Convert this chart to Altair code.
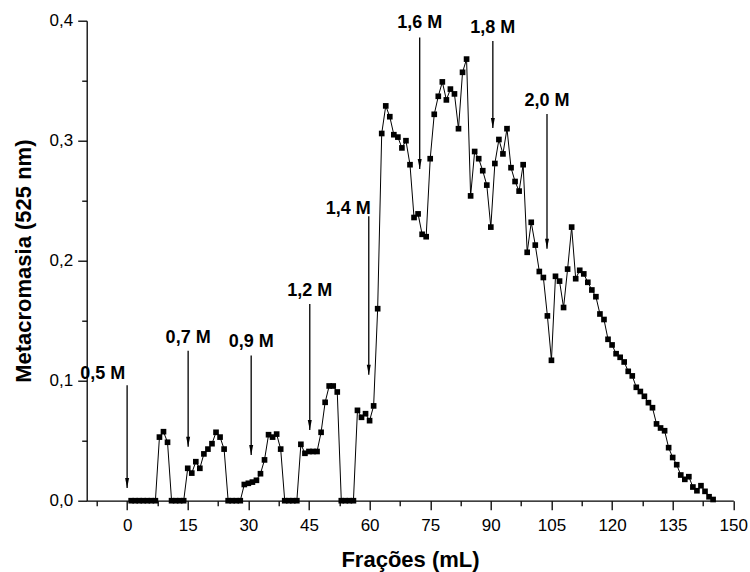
import altair as alt
import pandas as pd

# ---- data ----
frac_ml = list(range(1, 146))
metacromasia = [
    0, 0, 0, 0, 0, 0, 0,                      # 1-7
    0.053, 0.0575, 0.0487,                    # 8-10
    0, 0, 0, 0,                               # 11-14
    0.027, 0.023, 0.0325, 0.027, 0.039, 0.043, 0.0475, 0.057, 0.053, 0.043,  # 15-24
    0, 0, 0, 0,                               # 25-28
    0.0135, 0.0145, 0.0155, 0.017, 0.0225, 0.034, 0.055, 0.053, 0.0555, 0.043,  # 29-38
    0, 0, 0, 0,                               # 39-42
    0.047, 0.0395, 0.041, 0.041, 0.041, 0.057, 0.082, 0.0956, 0.0956, 0.0906,  # 43-52
    0, 0, 0, 0,                               # 53-56
    0.0753, 0.0695, 0.0725, 0.0667, 0.079,    # 57-61
    0.160, 0.306, 0.329, 0.320, 0.305, 0.303, 0.294, 0.300, 0.280,  # 62-70
    0.236, 0.239, 0.222, 0.220, 0.285, 0.322, 0.337, 0.349, 0.334, 0.343,  # 71-80
    0.339, 0.310, 0.357, 0.368, 0.254, 0.291, 0.285, 0.275, 0.263, 0.228,  # 81-90
    0.281, 0.301, 0.289, 0.310, 0.2775, 0.266, 0.258, 0.280, 0.207, 0.232,  # 91-100
    0.213, 0.191, 0.186, 0.154, 0.117, 0.187, 0.183, 0.161, 0.193, 0.228,  # 101-110
    0.185, 0.192, 0.189, 0.182, 0.1756, 0.170, 0.1556, 0.151, 0.1345, 0.1298,  # 111-120
    0.1225, 0.1195, 0.1156, 0.1078, 0.104, 0.0945, 0.091, 0.087, 0.0817, 0.0775,  # 121-130
    0.064, 0.0606, 0.0583, 0.0442, 0.036, 0.030, 0.0214, 0.0178, 0.020, 0.0114,  # 131-140
    0.0083, 0.0125, 0.0078, 0.0033, 0.001,    # 141-145
]

# annotations (NaCl steps)
ann_text = ["0,5 M", "0,7 M", "0,9 M", "1,2 M", "1,4 M", "1,6 M", "1,8 M", "2,0 M"]
ann_arrow_x = [0, 15.1, 30.7, 45.2, 59.8, 72.4, 90.5, 103.9]
ann_arrow_top = [0.0963, 0.125, 0.121, 0.164, 0.237, 0.386, 0.383, 0.3223]
ann_arrow_tip = [0.0106, 0.045, 0.038, 0.059, 0.105, 0.2764, 0.3106, 0.210]
ann_label_x = [-6.0, 15.1, 30.7, 45.2, 54.7, 72.4, 90.5, 103.9]
ann_label_y = [0.1054, 0.136, 0.132, 0.175, 0.2435, 0.398, 0.394, 0.333]

x_ticks = list(range(0, 151, 15))
x_minor = [v + 7.5 for v in range(-15, 150, 15)]
y_ticks = [0.0, 0.1, 0.2, 0.3, 0.4]
y_minor = [0.05, 0.15, 0.25, 0.35]

series = pd.DataFrame({"x": frac_ml, "y": metacromasia})
ann = pd.DataFrame({
    "text": ann_text, "ax": ann_arrow_x, "top": ann_arrow_top,
    "tip": ann_arrow_tip, "lx": ann_label_x, "ly": ann_label_y,
})

FONT = "Liberation Sans"
xs = alt.Scale(domain=[-10, 150], nice=False, zero=False)
ys = alt.Scale(domain=[0, 0.4], nice=False, zero=False)

W, H = 646.6, 480

x_major = alt.Axis(
    orient="bottom", values=x_ticks, tickSize=9, tickWidth=1.3, domainWidth=1.3,
    domainColor="black", tickColor="black", labelFont=FONT, labelFontSize=17,
    labelColor="black", labelPadding=8, grid=False, labelFlush=False,
    titleFont=FONT, titleFontSize=22, titleFontWeight="bold", titleColor="black",
    titleX=W / 2, titleY=59, titleAlign="center", titleBaseline="middle",
)
y_major = alt.Axis(
    orient="left", values=y_ticks, tickSize=9, tickWidth=1.3, domainWidth=1.3,
    domainColor="black", tickColor="black", labelFont=FONT, labelFontSize=17,
    labelColor="black", labelPadding=5, grid=False, labelFlush=False,
    labelExpr="replace(format(datum.value, '.1f'), '.', ',')",
    titleFont=FONT, titleFontSize=22, titleFontWeight="bold", titleColor="black",
    titleAngle=270, titleX=-63, titleY=H / 2, titleAlign="center", titleBaseline="middle",
)
x_min_axis = alt.Axis(orient="bottom", values=x_minor, tickSize=5, tickWidth=1.3,
                      tickColor="black", labels=False, domain=False, grid=False)
y_min_axis = alt.Axis(orient="left", values=y_minor, tickSize=5, tickWidth=1.3,
                      tickColor="black", labels=False, domain=False, grid=False)

line = alt.Chart(series).mark_line(color="black", strokeWidth=1).encode(
    x=alt.X("x:Q", scale=xs, axis=x_major, title="Frações (mL)"),
    y=alt.Y("y:Q", scale=ys, axis=y_major, title="Metacromasia (525 nm)"),
)
pts = alt.Chart(series).mark_point(shape="square", filled=True, color="black",
                                   size=32, opacity=1).encode(
    x=alt.X("x:Q", scale=xs, axis=x_min_axis, title=None),
    y=alt.Y("y:Q", scale=ys, axis=y_min_axis, title=None),
)
rules = alt.Chart(ann).mark_rule(color="black", strokeWidth=1.3).encode(
    x=alt.X("ax:Q", scale=xs, axis=None),
    y=alt.Y("top:Q", scale=ys, axis=None),
    y2="tip:Q",
)
heads = alt.Chart(ann).mark_point(
    shape="M-0.4,-1L0.4,-1L0,1Z", filled=True, color="black", size=100,
    opacity=1, yOffset=-5, strokeWidth=0,
).encode(
    x=alt.X("ax:Q", scale=xs, axis=None),
    y=alt.Y("tip:Q", scale=ys, axis=None),
)
labels = alt.Chart(ann).mark_text(
    font=FONT, fontSize=18, fontWeight="bold", color="black",
    align="center", baseline="middle",
).encode(
    x=alt.X("lx:Q", scale=xs, axis=None),
    y=alt.Y("ly:Q", scale=ys, axis=None),
    text="text:N",
)

chart = alt.layer(line, pts, rules, heads, labels).resolve_axis(
    x="independent", y="independent"
).properties(
    width=W, height=H,
    autosize=alt.AutoSizeParams(type="none"),
    padding={"left": 86.7, "top": 20.7, "right": 16.7, "bottom": 71.3},
    background="white",
).configure_view(stroke=None)

chart.save("out.html", embed_options={"renderer": "svg", "actions": False})
